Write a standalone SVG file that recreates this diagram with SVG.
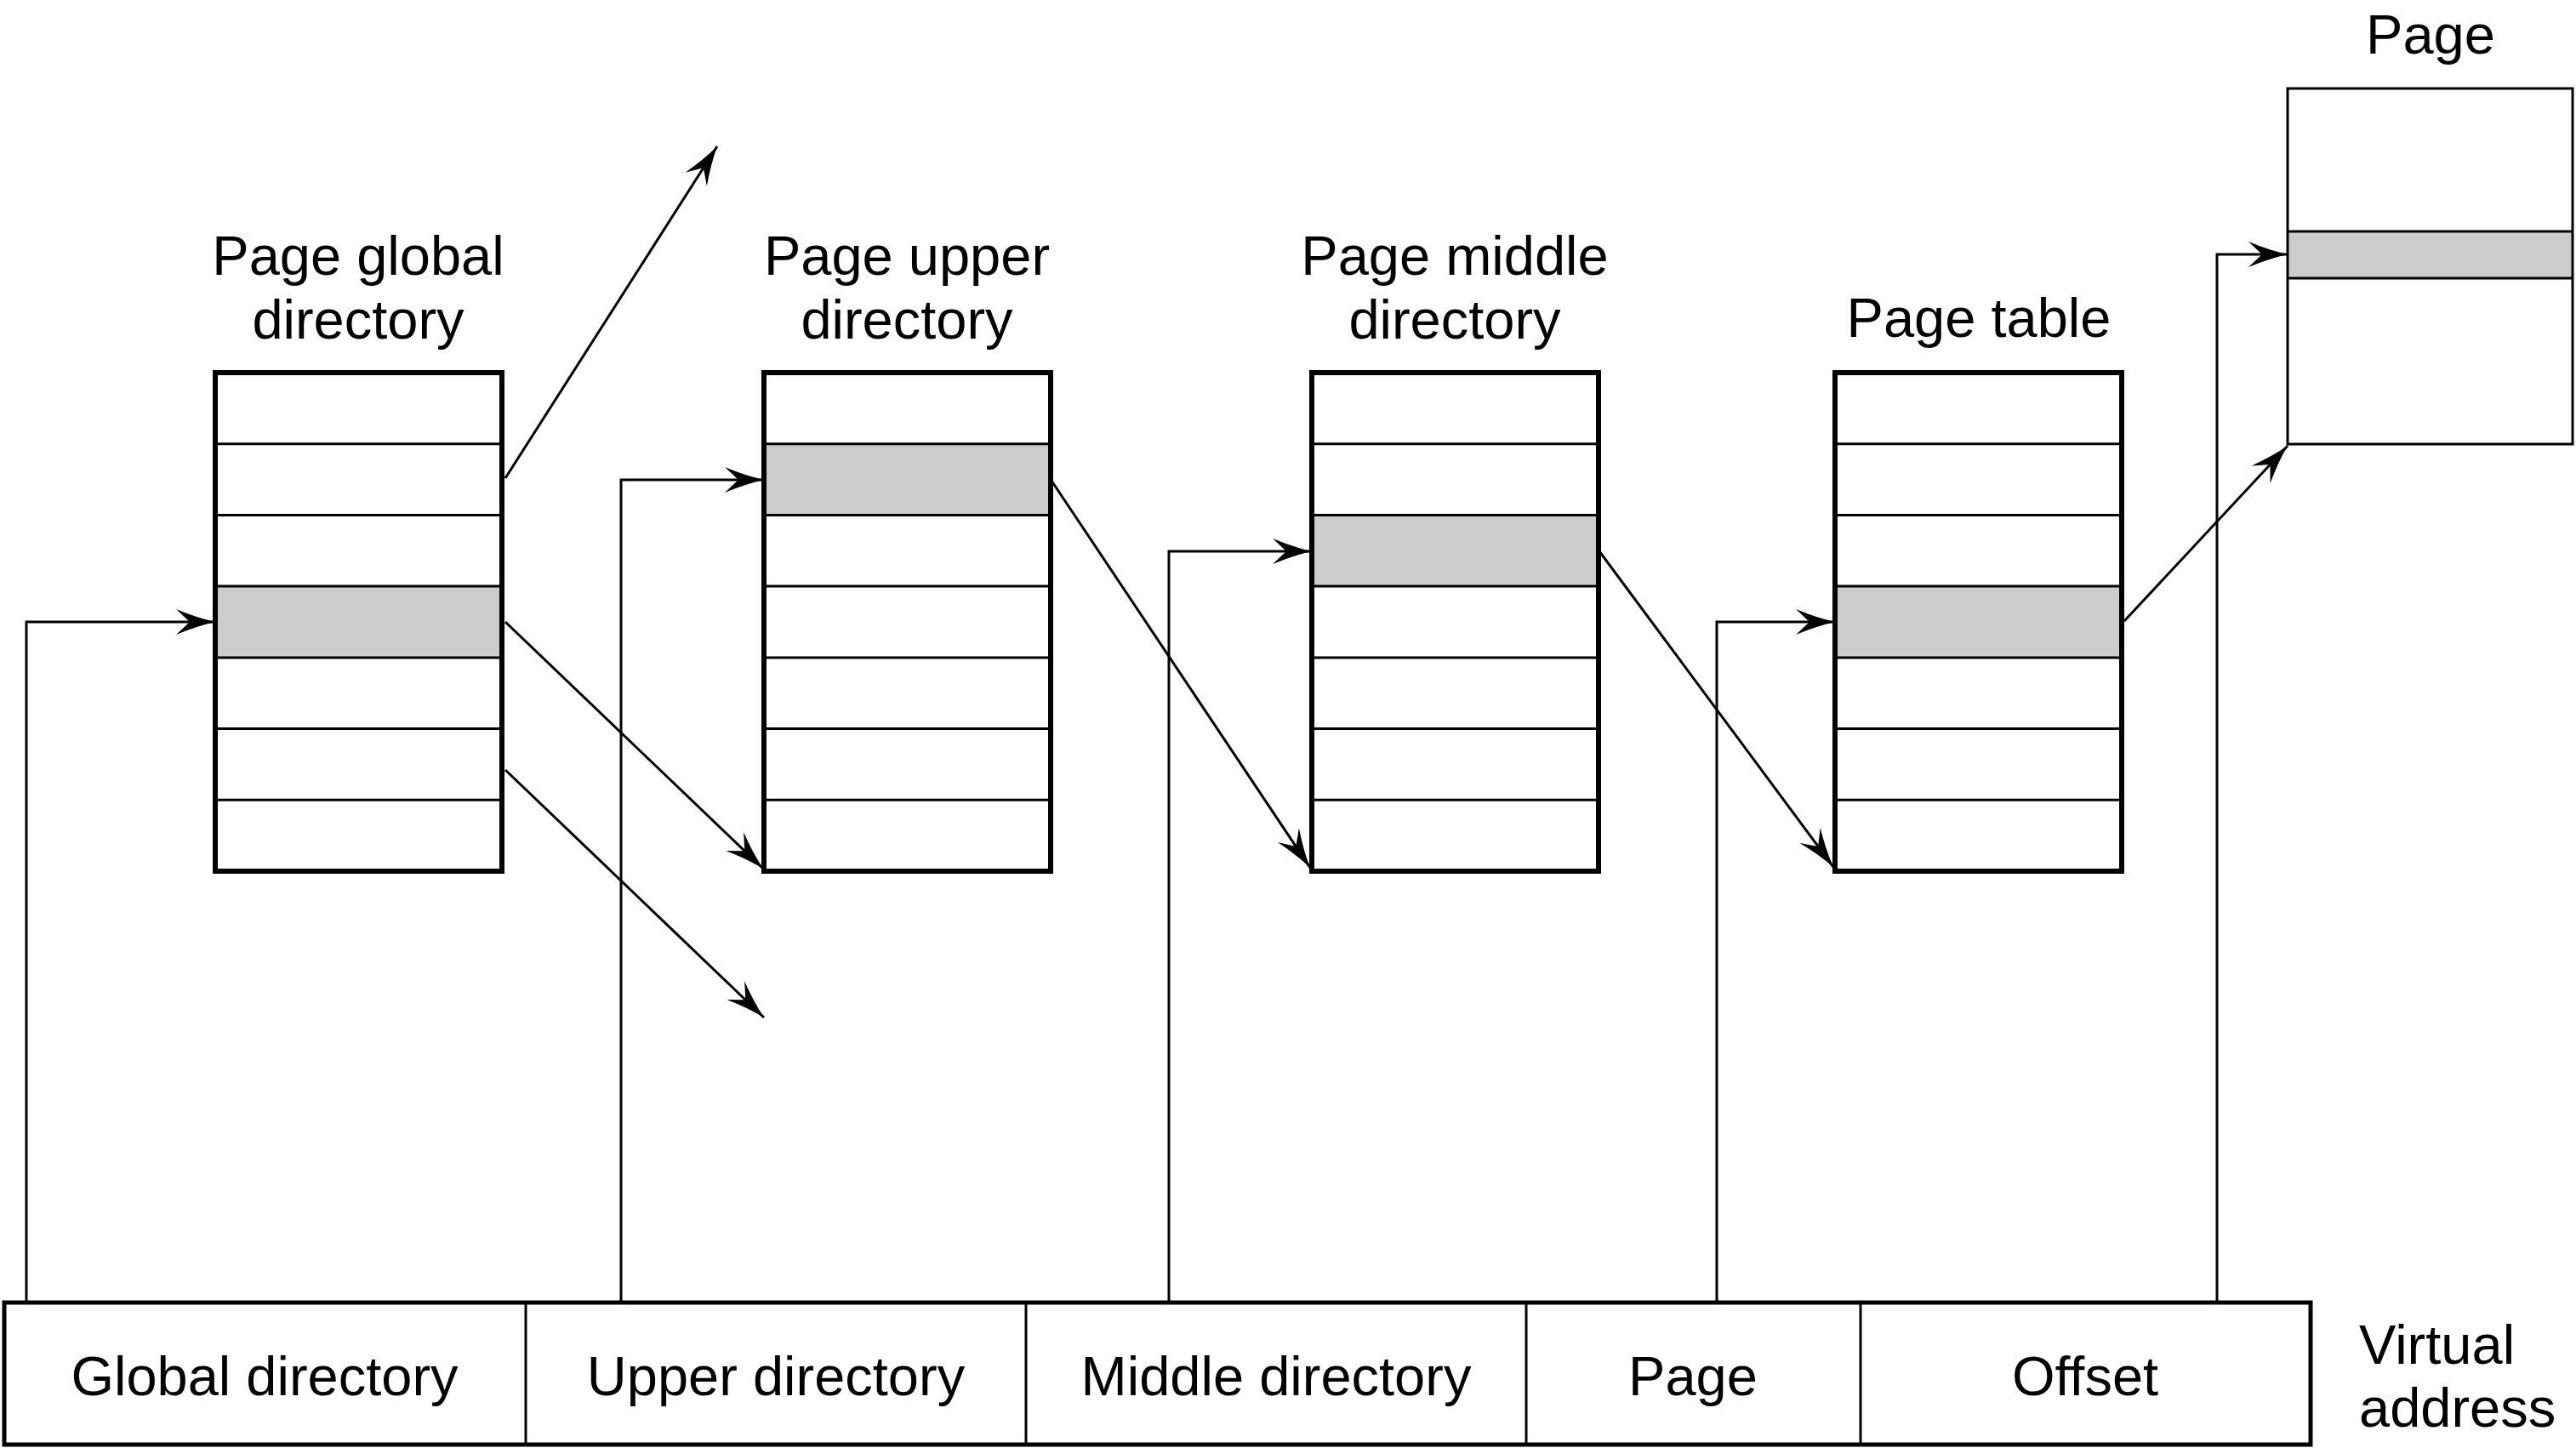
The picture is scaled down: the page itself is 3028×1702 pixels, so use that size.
<svg xmlns="http://www.w3.org/2000/svg" width="3028" height="1702" viewBox="0 0 3028 1702">
<style>
text{font-family:"Liberation Sans",Arial,sans-serif;font-size:65px;fill:#000}
.mid{text-anchor:middle}
.outer{fill:none;stroke:#000;stroke-width:6}
.row{stroke:#000;stroke-width:3}
.hl{fill:#cccccc}
.thin{fill:none;stroke:#000;stroke-width:3}
.conn{fill:none;stroke:#000;stroke-width:3;marker-end:url(#arr)}
</style>
<defs>
<marker id="arr" markerUnits="userSpaceOnUse" orient="auto" markerWidth="60" markerHeight="40" viewBox="-50 -20 60 40" refX="0" refY="0" overflow="visible">
<path d="M0,0 Q-22,-5 -46,-15 L-30,0 L-46,15 Q-22,5 0,0 Z" fill="#000"/>
</marker>
<g id="rows">
<line class="row" x1="0" y1="83.7" x2="337" y2="83.7"/>
<line class="row" x1="0" y1="167.4" x2="337" y2="167.4"/>
<line class="row" x1="0" y1="251.1" x2="337" y2="251.1"/>
<line class="row" x1="0" y1="334.9" x2="337" y2="334.9"/>
<line class="row" x1="0" y1="418.6" x2="337" y2="418.6"/>
<line class="row" x1="0" y1="502.3" x2="337" y2="502.3"/>
</g>
</defs>
<rect width="3028" height="1702" fill="#fff"/>

<g id="pgd">
<text class="mid" x="421" y="323">Page global</text>
<text class="mid" x="421" y="398">directory</text>
<rect class="hl" x="253" y="689.1" width="337" height="83.8"/>
<use href="#rows" x="253" y="438"/>
<rect class="outer" x="253" y="438" width="337" height="586"/>
</g>

<g id="pud">
<text class="mid" x="1066" y="323">Page upper</text>
<text class="mid" x="1066" y="398">directory</text>
<rect class="hl" x="898" y="521.7" width="337" height="83.7"/>
<use href="#rows" x="898" y="438"/>
<rect class="outer" x="898" y="438" width="337" height="586"/>
</g>

<g id="pmd">
<text class="mid" x="1710" y="323">Page middle</text>
<text class="mid" x="1710" y="398">directory</text>
<rect class="hl" x="1542" y="605.4" width="337" height="83.7"/>
<use href="#rows" x="1542" y="438"/>
<rect class="outer" x="1542" y="438" width="337" height="586"/>
</g>

<g id="pt">
<text class="mid" x="2326" y="396">Page table</text>
<rect class="hl" x="2157" y="689.1" width="337" height="83.8"/>
<use href="#rows" x="2157" y="438"/>
<rect class="outer" x="2157" y="438" width="337" height="586"/>
</g>

<g id="page">
<text class="mid" x="2857" y="63">Page</text>
<rect class="hl" x="2689" y="272" width="335" height="55"/>
<rect class="thin" x="2689" y="104" width="335" height="418"/>
<line class="row" x1="2689" y1="272" x2="3024" y2="272"/>
<line class="row" x1="2689" y1="327" x2="3024" y2="327"/>
</g>

<g id="vaddr">
<rect fill="none" stroke="#000" stroke-width="5" x="5" y="1531" width="2711" height="167"/>
<line class="row" x1="618" y1="1531" x2="618" y2="1698"/>
<line class="row" x1="1206" y1="1531" x2="1206" y2="1698"/>
<line class="row" x1="1794" y1="1531" x2="1794" y2="1698"/>
<line class="row" x1="2187" y1="1531" x2="2187" y2="1698"/>
<text class="mid" x="311" y="1640">Global directory</text>
<text class="mid" x="912" y="1640">Upper directory</text>
<text class="mid" x="1500" y="1640">Middle directory</text>
<text class="mid" x="1990" y="1640">Page</text>
<text class="mid" x="2451" y="1640">Offset</text>
<text x="2773" y="1603">Virtual</text>
<text x="2773" y="1677">address</text>
</g>

<g id="connectors">
<polyline class="conn" points="31,1529 31,731 253,731"/>
<polyline class="conn" points="730,1529 730,564 898,564"/>
<polyline class="conn" points="1374,1529 1374,648 1542,648"/>
<polyline class="conn" points="2018,1529 2018,731 2157,731"/>
<polyline class="conn" points="2606,1529 2606,299 2689,299"/>
<line class="conn" x1="594" y1="562" x2="843" y2="172"/>
<line class="conn" x1="594" y1="731" x2="897" y2="1021"/>
<line class="conn" x1="594" y1="905" x2="898" y2="1196"/>
<line class="conn" x1="1236" y1="565" x2="1540" y2="1020"/>
<line class="conn" x1="1880" y1="648" x2="2155" y2="1019"/>
<line class="conn" x1="2497" y1="730" x2="2689" y2="524"/>
</g>
</svg>
